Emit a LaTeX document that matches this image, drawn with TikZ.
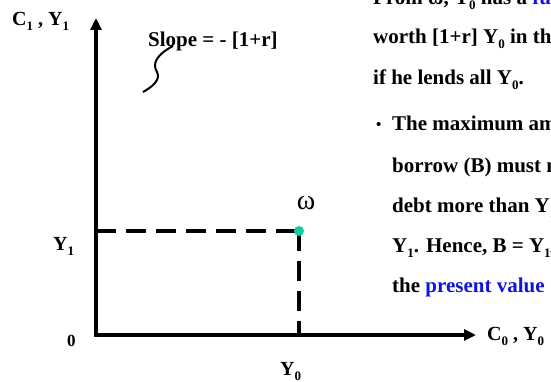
\documentclass[tikz,border=0pt]{standalone}
\usepackage{fontspec}
\setmainfont{Liberation Serif}
\usepackage{tikz}
\usetikzlibrary{arrows.meta}

\definecolor{pvblue}{RGB}{20,20,215}
\definecolor{dotgreen}{RGB}{24,204,160}
\newcommand{\dn}[1]{\raisebox{-5pt}{\fontsize{13}{13}\selectfont #1}}

\tikzset{
  lbl/.style={anchor=base west,inner sep=0pt,font=\fontsize{20}{20}\selectfont\bfseries},
  txt/.style={anchor=base west,inner sep=0pt,font=\fontsize{21}{21}\selectfont\bfseries},
  axis/.style={line width=4pt,{Triangle[length=12pt,width=11pt]}-{Triangle[length=12pt,width=11pt]}},
  guide/.style={line width=4pt,dash pattern=on 20pt off 10pt},
  callout/.style={line width=2pt}
}

\begin{document}
\begin{tikzpicture}[x=1pt,y=-1pt]
\useasboundingbox (0,0) rectangle (551,382);
\clip (0,0) rectangle (551,382);

\coordinate (ytop) at (96,18);
\coordinate (o) at (96,335);
\coordinate (xend) at (476,335);
\coordinate (y1) at (96,231);
\coordinate (y0) at (299,335);
\coordinate (w) at (299,231);
\coordinate (tipa) at (173,46);
\coordinate (tipb) at (143,92);

\draw[axis] (ytop) -- (o) -- (xend);
\draw[guide] (y1) -- (w);
\draw[guide] (w) -- (y0);
\fill[dotgreen] (w) circle (5);
\draw[callout] (tipa) .. controls (156,55) and (152,64) .. (157,72)
  .. controls (161,80) and (152,87) .. (tipb);

% axis labels
\node[lbl] (c1) at (12,26) {C\dn{1} , Y\dn{1}};
\node[lbl] (c0) at (487,340) {C\dn{0} , Y\dn{0}};
\node[lbl] (ly1) at (53,250) {Y\dn{1}};
\node[lbl] (ly0) at (280,375) {Y\dn{0}};
\node[anchor=base west,inner sep=0pt,font=\fontsize{17}{17}\selectfont\bfseries] (zero) at (67,346) {0};
\node[anchor=base,inner sep=0pt,font=\fontsize{28}{28}\selectfont] (omega) at (306,209) {ω};
\node[txt] (slope) at (148,47) {Slope = - [1+r]};

% text on the right
\node[txt] (t1) at (373,5) {From ω, Y\dn{0} has a \textcolor{pvblue}{future}};
\node[txt] (t2) at (373,44) {worth [1+r] Y\dn{0} in the};
\node[txt] (t3) at (373,85) {if he lends all Y\dn{0}.};
\node[anchor=base west,inner sep=0pt,font=\fontsize{15}{15}\selectfont\bfseries] (bul) at (376,130) {•};
\node[txt] (t4) at (392,131) {The maximum amount};
\node[txt] (t5) at (392,172) {borrow (B) must not};
\node[txt] (t6) at (392,212) {debt more than Y\dn{1}};
\node[txt] (t7) at (392,252) {Y\dn{1}. Hence, B = Y\dn{1}/[1+r]};
\node[txt] (t8) at (392,292) {the \textcolor{pvblue}{present value}};
\end{tikzpicture}
\end{document}
